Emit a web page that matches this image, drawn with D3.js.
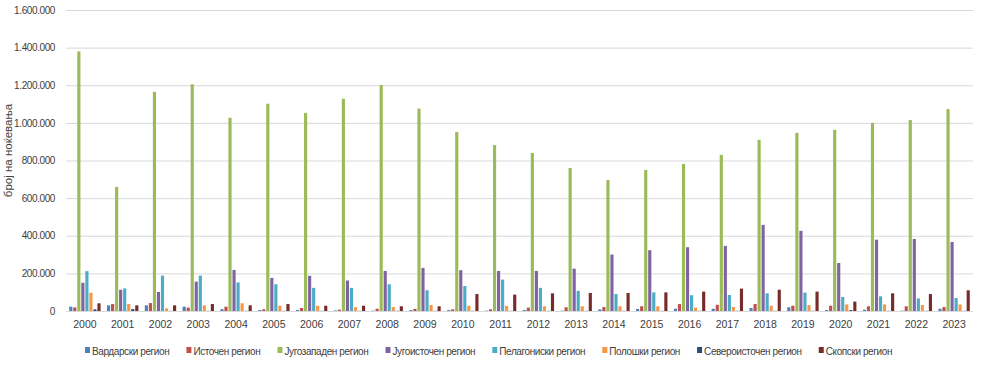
<!DOCTYPE html>
<html>
<head>
<meta charset="utf-8">
<script src="https://cdn.jsdelivr.net/npm/d3@7"></script>
<style>
  body { margin: 0; background: #fff; }
  text { font-family: "Liberation Sans", Arial, sans-serif; }
</style>
</head>
<body>
<div class="canvas"></div>
<script>
// data - nights spent per region
const years = ['2000','2001','2002','2003','2004','2005','2006','2007','2008','2009','2010','2011',
    '2012','2013','2014','2015','2016','2017','2018','2019','2020','2021','2022','2023'];

const regions = ['Вардарски регион','Источен регион','Југозападен регион','Југоисточен регион',
    'Пелагониски регион','Полошки регион','Североисточен регион','Скопски регион'];

const vardarski = [23000,30000,30000,23000,10000,5000,5000,3000,2000,5000,5000,2000,
    5000,2000,9000,11000,12000,12000,16000,20000,5000,7000,2000,12000];
const istochen = [19000,37000,42000,18000,23000,9000,16000,7000,12000,11000,9000,9000,
    18000,20000,21000,25000,37000,33000,37000,28000,28000,25000,25000,21000];
const jugozapaden = [1380000,660000,1165000,1205000,1027000,1102000,1053000,1128000,1202000,1076000,952000,882000,
    840000,760000,696000,750000,782000,830000,910000,947000,963000,1000000,1015000,1073000];
const jugoistochen = [150000,113000,101000,156000,218000,176000,187000,162000,213000,229000,217000,213000,
    213000,225000,300000,323000,339000,346000,458000,426000,255000,379000,383000,367000];
const pelagoniski = [212000,120000,188000,188000,152000,142000,123000,123000,142000,110000,133000,167000,
    123000,107000,90000,99000,84000,85000,94000,98000,74000,78000,67000,69000];
const poloshki = [97000,37000,14000,30000,41000,28000,28000,20000,21000,32000,28000,27000,
    25000,25000,25000,25000,18000,21000,28000,32000,35000,35000,32000,35000];
const severoistochen = [9000,10000,1000,1000,1000,1000,1000,1000,1000,1000,1000,1000,
    1000,1000,1000,1000,1000,1000,1000,1000,5000,1000,1000,1000];
const skopski = [41000,30000,30000,37000,30000,37000,28000,28000,25000,25000,90000,87000,
    94000,96000,96000,99000,103000,119000,113000,103000,50000,94000,90000,110000];

const yTicks = [0,200000,400000,600000,800000,1000000,1200000,1400000,1600000];

const series = [vardarski, istochen, jugozapaden, jugoistochen, pelagoniski, poloshki, severoistochen, skopski];
const colours = ['#4F81BD','#C0504D','#9BBB59','#8064A2','#4BACC6','#F79646','#2C4D75','#772C2A'];

const width = 985;
const height = 367;
const margin = { top: 10, right: 12, bottom: 56, left: 66 };
const graphWidth = width - margin.left - margin.right;
const graphHeight = height - margin.top - margin.bottom;

const svg = d3.select('.canvas')
    .append('svg')
    .attr('width', width)
    .attr('height', height);

const graph = svg.append('g')
    .attr('transform', `translate(${margin.left},${margin.top})`);

// scales
const x0 = d3.scaleBand()
    .domain(years)
    .range([0, graphWidth])
    .paddingInner(0.17)
    .paddingOuter(0.085);

const x1 = d3.scaleBand()
    .domain(d3.range(regions.length))
    .range([0, x0.bandwidth()])
    .paddingInner(0.22);

const y = d3.scaleLinear()
    .domain([0, 1600000])
    .range([graphHeight, 0]);

const mk = d3.formatLocale({ decimal: ',', thousands: '.', grouping: [3], currency: ['', ''] });
const fmt = mk.format(',');

// gridlines
graph.append('g')
    .selectAll('line')
    .data(yTicks)
    .enter()
    .append('line')
    .attr('x1', 0)
    .attr('x2', graphWidth)
    .attr('y1', d => y(d) + 0.5)
    .attr('y2', d => y(d) + 0.5)
    .attr('stroke', '#d9d9d9')
    .attr('stroke-width', 1);

// y axis
const yAxis = d3.axisLeft(y)
    .tickValues(yTicks)
    .tickSize(0)
    .tickPadding(11)
    .tickFormat(fmt);

const yAxisGroup = graph.append('g').call(yAxis);
yAxisGroup.select('.domain').remove();
yAxisGroup.selectAll('text')
    .attr('font-size', 10)
    .attr('letter-spacing', -0.4)
    .attr('fill', '#404040')
    .style('font-family', '"Liberation Sans", Arial, sans-serif');

// x axis
const xAxis = d3.axisBottom(x0).tickSize(0).tickPadding(10);
const xAxisGroup = graph.append('g')
    .attr('transform', `translate(0, ${graphHeight})`)
    .call(xAxis);
xAxisGroup.select('.domain').remove();
xAxisGroup.selectAll('text')
    .attr('font-size', 10.5)
    .attr('fill', '#404040')
    .style('font-family', '"Liberation Sans", Arial, sans-serif');

// bars
const groups = graph.selectAll('g.year')
    .data(years)
    .enter()
    .append('g')
    .attr('class', 'year')
    .attr('transform', d => `translate(${x0(d)},0)`);

groups.selectAll('rect')
    .data((d, i) => series.map((s, j) => ({ k: j, v: s[i] })))
    .enter()
    .append('rect')
    .attr('x', d => x1(d.k))
    .attr('y', d => y(d.v))
    .attr('width', x1.bandwidth())
    .attr('height', d => graphHeight - y(d.v))
    .attr('fill', d => colours[d.k]);

// y axis title
svg.append('text')
    .attr('transform', `translate(12, ${margin.top + graphHeight / 2 - 10}) rotate(-90)`)
    .attr('text-anchor', 'middle')
    .attr('font-size', 11.5)
    .attr('fill', '#404040')
    .text('број на ноќевања');

// legend - spread items between first and last position
const legend = svg.append('g')
    .attr('transform', 'translate(0, 351)');

const items = legend.selectAll('g')
    .data(regions)
    .enter()
    .append('g');

items.append('rect')
    .attr('x', 0)
    .attr('y', -4)
    .attr('width', 5)
    .attr('height', 6)
    .attr('fill', (d, i) => colours[i]);

items.append('text')
    .attr('x', 7)
    .attr('y', 0)
    .attr('dy', '0.35em')
    .attr('font-size', 10)
    .attr('letter-spacing', -0.4)
    .attr('fill', '#404040')
    .text(d => d);

const widths = [];
items.each(function () { widths.push(7 + d3.select(this).select('text').node().getComputedTextLength()); });
const legStart = 85, legEnd = 892;
const gap = (legEnd - legStart - d3.sum(widths)) / (regions.length - 1);
let pos = legStart;
items.attr('transform', (d, i) => {
    const t = `translate(${pos},0)`;
    pos += widths[i] + gap;
    return t;
});
</script>
</body>
</html>
